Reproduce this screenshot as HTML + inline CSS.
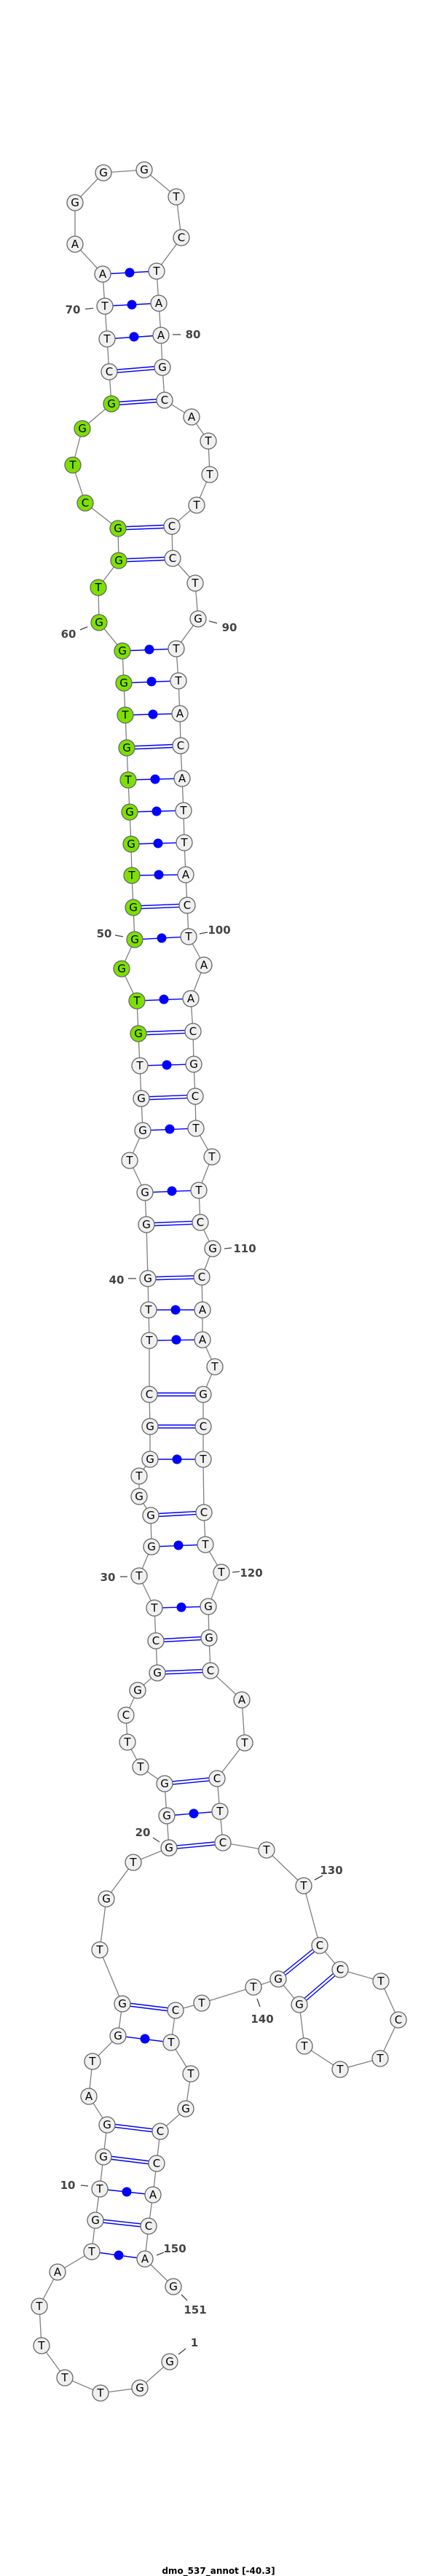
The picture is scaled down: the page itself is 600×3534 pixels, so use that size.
<!DOCTYPE html>
<html><head><meta charset="utf-8"><style>
html,body{margin:0;padding:0;background:#fff;}
svg{display:block;}
.n circle{fill:#f0f0f0;stroke:#666;stroke-width:1.3;}
.n circle.g{fill:#7de000;}
.n text{font-family:"DejaVu Sans","Liberation Sans",sans-serif;font-size:15px;text-anchor:middle;fill:#000;}
.lb{font-family:"DejaVu Sans","Liberation Sans",sans-serif;font-size:15px;font-weight:bold;fill:#444;text-anchor:middle;}
</style></head><body>
<svg width="600" height="3534" viewBox="0 0 600 3534" xmlns="http://www.w3.org/2000/svg">
<polyline fill="none" stroke="#808080" stroke-width="1.3" points="233,3240 192,3276 138,3283 89,3262 57,3218 54,3164 79,3117 126,3089 131,3046 137,3003 142,2959 147,2915 122,2876 127,2828 162,2793 168,2749 137,2675 146,2605 183,2555 232,2535 229,2491 226,2447 193,2424 175,2390 173,2353 189,2319 216,2295 214,2251 212,2206 191,2162 208,2122 207,2079 191,2053 191,2025 206,2002 206,1957 205,1913 205,1839 204,1797 203,1754 201,1680 199,1636 178,1592 196,1551 194,1507 192,1462 190,1418 188,1373 167,1329 185,1289 183,1245 181,1201 180,1158 178,1114 176,1070 174,1026 172,981 170,937 168,893 136,854 135,806 163,769 162,725 117,690 100,638 113,588 153,554 150,510 147,465 144,420 141,376 103,335 103,278 142,237 198,233 242,270 249,326 215,372 218,416 221,460 223,504 226,549 263,572 286,605 288,651 270,693 236,722 237,766 268,800 272,849 242,890 245,934 247,979 248,1023 250,1068 252,1112 253,1156 255,1200 257,1242 259,1285 280,1324 262,1370 265,1415 266,1460 268,1504 269,1548 291,1587 273,1633 275,1677 292,1713 277,1752 278,1797 278,1838 295,1875 279,1913 279,1957 279,2002 280,2075 282,2119 304,2157 286,2204 287,2247 289,2292 332,2332 336,2391 298,2440 302,2485 306,2528 366,2538 417,2587 439,2669 467,2702 523,2718 547,2771 522,2824 467,2839 418,2807 411,2750 382,2715 348,2726 277,2748 241,2758 235,2802 262,2845 255,2893 220,2924 215,2968 210,3011 204,3054 199,3099 238,3137"/>
<!-- double bonds (GC) -->
<path fill="none" stroke="#0000ff" stroke-width="1.4" d="
M131,3044 L204,3052 M131,3048 L204,3056
M142,2957 L215,2966 M142,2961 L215,2970
M147,2913 L220,2922 M147,2917 L220,2926
M168,2747 L241,2756 M168,2751 L241,2760
M232,2533 L306,2526 M232,2537 L306,2530
M226,2445 L298,2438 M226,2449 L298,2442
M216,2293 L289,2290 M216,2297 L289,2294
M214,2249 L287,2245 M214,2253 L287,2249
M207,2077 L280,2073 M207,2081 L280,2077
M206,1955 L279,1955 M206,1959 L279,1959
M205,1911 L279,1911 M205,1915 L279,1915
M203,1752 L277,1750 M203,1756 L277,1754
M201,1678 L275,1675 M201,1682 L275,1679
M194,1505 L268,1502 M194,1509 L268,1506
M190,1416 L265,1413 M190,1420 L265,1417
M183,1243 L257,1240 M183,1247 L257,1244
M174,1024 L248,1021 M174,1028 L248,1025
M163,767 L237,764 M163,771 L237,768
M162,723 L236,720 M162,727 L236,724
M153,552 L226,547 M153,556 L226,551
M150,508 L223,502 M150,512 L223,506
M412.3,2751.5 L468.3,2703.5 M409.7,2748.5 L465.7,2700.5
M383.3,2716.5 L440.3,2670.5 M380.7,2713.5 L437.7,2667.5
"/>
<!-- single bonds with dots -->
<path fill="none" stroke="#0000ff" stroke-width="1.4" d="
M126,3089 L199,3099 M137,3003 L210,3011 M162,2793 L235,2802 M229,2491 L302,2485
M212,2206 L286,2204 M208,2122 L282,2119 M206,2002 L279,2002 M205,1839 L278,1838
M204,1797 L278,1797 M199,1636 L273,1633 M196,1551 L269,1548 M192,1462 L266,1460
M188,1373 L262,1370 M185,1289 L259,1285 M181,1201 L255,1200 M180,1158 L253,1156
M178,1114 L252,1112 M176,1070 L250,1068 M172,981 L247,979 M170,937 L245,934
M168,893 L242,890 M147,465 L221,460 M144,420 L218,416 M141,376 L215,372"/>
<g fill="#0000ff">
<circle cx="163" cy="3094" r="6.5"/><circle cx="174" cy="3007" r="6.5"/><circle cx="199" cy="2797" r="6.5"/><circle cx="266" cy="2488" r="6.5"/>
<circle cx="249" cy="2205" r="6.5"/><circle cx="245" cy="2120" r="6.5"/><circle cx="243" cy="2002" r="6.5"/><circle cx="242" cy="1838" r="6.5"/>
<circle cx="241" cy="1797" r="6.5"/><circle cx="236" cy="1634" r="6.5"/><circle cx="233" cy="1549" r="6.5"/><circle cx="229" cy="1461" r="6.5"/>
<circle cx="225" cy="1371" r="6.5"/><circle cx="222" cy="1287" r="6.5"/><circle cx="218" cy="1200" r="6.5"/><circle cx="217" cy="1157" r="6.5"/>
<circle cx="215" cy="1113" r="6.5"/><circle cx="213" cy="1069" r="6.5"/><circle cx="210" cy="980" r="6.5"/><circle cx="208" cy="935" r="6.5"/>
<circle cx="205" cy="891" r="6.5"/><circle cx="184" cy="462" r="6.5"/><circle cx="181" cy="418" r="6.5"/><circle cx="178" cy="374" r="6.5"/>
</g>
<!-- ticks -->
<path fill="none" stroke="#444" stroke-width="1.3" d="
M117,424 L128,423 M237,459 L248,459 M110,864 L120,860 M287,852 L298,855
M158,1283 L169,1285 M274,1281 L285,1279 M308,1713 L318,1712 M176,1754 L187,1754
M165,2163 L175,2163 M319,2157 L329,2156 M210,2521 L219,2527 M432,2579 L443,2573
M353,2742 L357,2753 M111,2998 L121,2999 M215,3094 L225,3090 M249,3148 L257,3156
M245,3230 L255,3222"/>
<g class="lb">
<text x="100" y="430">70</text>
<text x="265" y="464">80</text>
<text x="94" y="875">60</text>
<text x="315" y="866">90</text>
<text x="143" y="1286">50</text>
<text x="301" y="1281">100</text>
<text x="336" y="1718">110</text>
<text x="160" y="1761">40</text>
<text x="148" y="2169">30</text>
<text x="345" y="2163">120</text>
<text x="196" y="2519">20</text>
<text x="455" y="2571">130</text>
<text x="360" y="2775">140</text>
<text x="93" y="3003">10</text>
<text x="240" y="3090">150</text>
<text x="268" y="3174">151</text>
<text x="267" y="3219">1</text>
</g>
<g class="n">
<circle cx="233" cy="3240" r="11"/><text x="233" y="3245">G</text>
<circle cx="192" cy="3276" r="11"/><text x="192" y="3281">G</text>
<circle cx="138" cy="3283" r="11"/><text x="138" y="3288">T</text>
<circle cx="89" cy="3262" r="11"/><text x="89" y="3267">T</text>
<circle cx="57" cy="3218" r="11"/><text x="57" y="3223">T</text>
<circle cx="54" cy="3164" r="11"/><text x="54" y="3169">T</text>
<circle cx="79" cy="3117" r="11"/><text x="79" y="3122">A</text>
<circle cx="126" cy="3089" r="11"/><text x="126" y="3094">T</text>
<circle cx="131" cy="3046" r="11"/><text x="131" y="3051">G</text>
<circle cx="137" cy="3003" r="11"/><text x="137" y="3008">T</text>
<circle cx="142" cy="2959" r="11"/><text x="142" y="2964">G</text>
<circle cx="147" cy="2915" r="11"/><text x="147" y="2920">G</text>
<circle cx="122" cy="2876" r="11"/><text x="122" y="2881">A</text>
<circle cx="127" cy="2828" r="11"/><text x="127" y="2833">T</text>
<circle cx="162" cy="2793" r="11"/><text x="162" y="2798">G</text>
<circle cx="168" cy="2749" r="11"/><text x="168" y="2754">G</text>
<circle cx="137" cy="2675" r="11"/><text x="137" y="2680">T</text>
<circle cx="146" cy="2605" r="11"/><text x="146" y="2610">G</text>
<circle cx="183" cy="2555" r="11"/><text x="183" y="2560">T</text>
<circle cx="232" cy="2535" r="11"/><text x="232" y="2540">G</text>
<circle cx="229" cy="2491" r="11"/><text x="229" y="2496">G</text>
<circle cx="226" cy="2447" r="11"/><text x="226" y="2452">G</text>
<circle cx="193" cy="2424" r="11"/><text x="193" y="2429">T</text>
<circle cx="175" cy="2390" r="11"/><text x="175" y="2395">T</text>
<circle cx="173" cy="2353" r="11"/><text x="173" y="2358">C</text>
<circle cx="189" cy="2319" r="11"/><text x="189" y="2324">G</text>
<circle cx="216" cy="2295" r="11"/><text x="216" y="2300">G</text>
<circle cx="214" cy="2251" r="11"/><text x="214" y="2256">C</text>
<circle cx="212" cy="2206" r="11"/><text x="212" y="2211">T</text>
<circle cx="191" cy="2162" r="11"/><text x="191" y="2167">T</text>
<circle cx="208" cy="2122" r="11"/><text x="208" y="2127">G</text>
<circle cx="207" cy="2079" r="11"/><text x="207" y="2084">G</text>
<circle cx="191" cy="2053" r="11"/><text x="191" y="2058">G</text>
<circle cx="191" cy="2025" r="11"/><text x="191" y="2030">T</text>
<circle cx="206" cy="2002" r="11"/><text x="206" y="2007">G</text>
<circle cx="206" cy="1957" r="11"/><text x="206" y="1962">G</text>
<circle cx="205" cy="1913" r="11"/><text x="205" y="1918">C</text>
<circle cx="205" cy="1839" r="11"/><text x="205" y="1844">T</text>
<circle cx="204" cy="1797" r="11"/><text x="204" y="1802">T</text>
<circle cx="203" cy="1754" r="11"/><text x="203" y="1759">G</text>
<circle cx="201" cy="1680" r="11"/><text x="201" y="1685">G</text>
<circle cx="199" cy="1636" r="11"/><text x="199" y="1641">G</text>
<circle cx="178" cy="1592" r="11"/><text x="178" y="1597">T</text>
<circle cx="196" cy="1551" r="11"/><text x="196" y="1556">G</text>
<circle cx="194" cy="1507" r="11"/><text x="194" y="1512">G</text>
<circle cx="192" cy="1462" r="11"/><text x="192" y="1467">T</text>
<circle class="g" cx="190" cy="1418" r="11"/><text x="190" y="1423">G</text>
<circle class="g" cx="188" cy="1373" r="11"/><text x="188" y="1378">T</text>
<circle class="g" cx="167" cy="1329" r="11"/><text x="167" y="1334">G</text>
<circle class="g" cx="185" cy="1289" r="11"/><text x="185" y="1294">G</text>
<circle class="g" cx="183" cy="1245" r="11"/><text x="183" y="1250">G</text>
<circle class="g" cx="181" cy="1201" r="11"/><text x="181" y="1206">T</text>
<circle class="g" cx="180" cy="1158" r="11"/><text x="180" y="1163">G</text>
<circle class="g" cx="178" cy="1114" r="11"/><text x="178" y="1119">G</text>
<circle class="g" cx="176" cy="1070" r="11"/><text x="176" y="1075">T</text>
<circle class="g" cx="174" cy="1026" r="11"/><text x="174" y="1031">G</text>
<circle class="g" cx="172" cy="981" r="11"/><text x="172" y="986">T</text>
<circle class="g" cx="170" cy="937" r="11"/><text x="170" y="942">G</text>
<circle class="g" cx="168" cy="893" r="11"/><text x="168" y="898">G</text>
<circle class="g" cx="136" cy="854" r="11"/><text x="136" y="859">G</text>
<circle class="g" cx="135" cy="806" r="11"/><text x="135" y="811">T</text>
<circle class="g" cx="163" cy="769" r="11"/><text x="163" y="774">G</text>
<circle class="g" cx="162" cy="725" r="11"/><text x="162" y="730">G</text>
<circle class="g" cx="117" cy="690" r="11"/><text x="117" y="695">C</text>
<circle class="g" cx="100" cy="638" r="11"/><text x="100" y="643">T</text>
<circle class="g" cx="113" cy="588" r="11"/><text x="113" y="593">G</text>
<circle class="g" cx="153" cy="554" r="11"/><text x="153" y="559">G</text>
<circle cx="150" cy="510" r="11"/><text x="150" y="515">C</text>
<circle cx="147" cy="465" r="11"/><text x="147" y="470">T</text>
<circle cx="144" cy="420" r="11"/><text x="144" y="425">T</text>
<circle cx="141" cy="376" r="11"/><text x="141" y="381">A</text>
<circle cx="103" cy="335" r="11"/><text x="103" y="340">A</text>
<circle cx="103" cy="278" r="11"/><text x="103" y="283">G</text>
<circle cx="142" cy="237" r="11"/><text x="142" y="242">G</text>
<circle cx="198" cy="233" r="11"/><text x="198" y="238">G</text>
<circle cx="242" cy="270" r="11"/><text x="242" y="275">T</text>
<circle cx="249" cy="326" r="11"/><text x="249" y="331">C</text>
<circle cx="215" cy="372" r="11"/><text x="215" y="377">T</text>
<circle cx="218" cy="416" r="11"/><text x="218" y="421">A</text>
<circle cx="221" cy="460" r="11"/><text x="221" y="465">A</text>
<circle cx="223" cy="504" r="11"/><text x="223" y="509">G</text>
<circle cx="226" cy="549" r="11"/><text x="226" y="554">C</text>
<circle cx="263" cy="572" r="11"/><text x="263" y="577">A</text>
<circle cx="286" cy="605" r="11"/><text x="286" y="610">T</text>
<circle cx="288" cy="651" r="11"/><text x="288" y="656">T</text>
<circle cx="270" cy="693" r="11"/><text x="270" y="698">T</text>
<circle cx="236" cy="722" r="11"/><text x="236" y="727">C</text>
<circle cx="237" cy="766" r="11"/><text x="237" y="771">C</text>
<circle cx="268" cy="800" r="11"/><text x="268" y="805">T</text>
<circle cx="272" cy="849" r="11"/><text x="272" y="854">G</text>
<circle cx="242" cy="890" r="11"/><text x="242" y="895">T</text>
<circle cx="245" cy="934" r="11"/><text x="245" y="939">T</text>
<circle cx="247" cy="979" r="11"/><text x="247" y="984">A</text>
<circle cx="248" cy="1023" r="11"/><text x="248" y="1028">C</text>
<circle cx="250" cy="1068" r="11"/><text x="250" y="1073">A</text>
<circle cx="252" cy="1112" r="11"/><text x="252" y="1117">T</text>
<circle cx="253" cy="1156" r="11"/><text x="253" y="1161">T</text>
<circle cx="255" cy="1200" r="11"/><text x="255" y="1205">A</text>
<circle cx="257" cy="1242" r="11"/><text x="257" y="1247">C</text>
<circle cx="259" cy="1285" r="11"/><text x="259" y="1290">T</text>
<circle cx="280" cy="1324" r="11"/><text x="280" y="1329">A</text>
<circle cx="262" cy="1370" r="11"/><text x="262" y="1375">A</text>
<circle cx="265" cy="1415" r="11"/><text x="265" y="1420">C</text>
<circle cx="266" cy="1460" r="11"/><text x="266" y="1465">G</text>
<circle cx="268" cy="1504" r="11"/><text x="268" y="1509">C</text>
<circle cx="269" cy="1548" r="11"/><text x="269" y="1553">T</text>
<circle cx="291" cy="1587" r="11"/><text x="291" y="1592">T</text>
<circle cx="273" cy="1633" r="11"/><text x="273" y="1638">T</text>
<circle cx="275" cy="1677" r="11"/><text x="275" y="1682">C</text>
<circle cx="292" cy="1713" r="11"/><text x="292" y="1718">G</text>
<circle cx="277" cy="1752" r="11"/><text x="277" y="1757">C</text>
<circle cx="278" cy="1797" r="11"/><text x="278" y="1802">A</text>
<circle cx="278" cy="1838" r="11"/><text x="278" y="1843">A</text>
<circle cx="295" cy="1875" r="11"/><text x="295" y="1880">T</text>
<circle cx="279" cy="1913" r="11"/><text x="279" y="1918">G</text>
<circle cx="279" cy="1957" r="11"/><text x="279" y="1962">C</text>
<circle cx="279" cy="2002" r="11"/><text x="279" y="2007">T</text>
<circle cx="280" cy="2075" r="11"/><text x="280" y="2080">C</text>
<circle cx="282" cy="2119" r="11"/><text x="282" y="2124">T</text>
<circle cx="304" cy="2157" r="11"/><text x="304" y="2162">T</text>
<circle cx="286" cy="2204" r="11"/><text x="286" y="2209">G</text>
<circle cx="287" cy="2247" r="11"/><text x="287" y="2252">G</text>
<circle cx="289" cy="2292" r="11"/><text x="289" y="2297">C</text>
<circle cx="332" cy="2332" r="11"/><text x="332" y="2337">A</text>
<circle cx="336" cy="2391" r="11"/><text x="336" y="2396">T</text>
<circle cx="298" cy="2440" r="11"/><text x="298" y="2445">C</text>
<circle cx="302" cy="2485" r="11"/><text x="302" y="2490">T</text>
<circle cx="306" cy="2528" r="11"/><text x="306" y="2533">C</text>
<circle cx="366" cy="2538" r="11"/><text x="366" y="2543">T</text>
<circle cx="417" cy="2587" r="11"/><text x="417" y="2592">T</text>
<circle cx="439" cy="2669" r="11"/><text x="439" y="2674">C</text>
<circle cx="467" cy="2702" r="11"/><text x="467" y="2707">C</text>
<circle cx="523" cy="2718" r="11"/><text x="523" y="2723">T</text>
<circle cx="547" cy="2771" r="11"/><text x="547" y="2776">C</text>
<circle cx="522" cy="2824" r="11"/><text x="522" y="2829">T</text>
<circle cx="467" cy="2839" r="11"/><text x="467" y="2844">T</text>
<circle cx="418" cy="2807" r="11"/><text x="418" y="2812">T</text>
<circle cx="411" cy="2750" r="11"/><text x="411" y="2755">G</text>
<circle cx="382" cy="2715" r="11"/><text x="382" y="2720">G</text>
<circle cx="348" cy="2726" r="11"/><text x="348" y="2731">T</text>
<circle cx="277" cy="2748" r="11"/><text x="277" y="2753">T</text>
<circle cx="241" cy="2758" r="11"/><text x="241" y="2763">C</text>
<circle cx="235" cy="2802" r="11"/><text x="235" y="2807">T</text>
<circle cx="262" cy="2845" r="11"/><text x="262" y="2850">T</text>
<circle cx="255" cy="2893" r="11"/><text x="255" y="2898">G</text>
<circle cx="220" cy="2924" r="11"/><text x="220" y="2929">C</text>
<circle cx="215" cy="2968" r="11"/><text x="215" y="2973">C</text>
<circle cx="210" cy="3011" r="11"/><text x="210" y="3016">A</text>
<circle cx="204" cy="3054" r="11"/><text x="204" y="3059">C</text>
<circle cx="199" cy="3099" r="11"/><text x="199" y="3104">A</text>
<circle cx="238" cy="3137" r="11"/><text x="238" y="3142">G</text>
</g>
<text x="300" y="3531" style="font-family:'DejaVu Sans','Liberation Sans',sans-serif;font-size:12px;font-weight:bold;fill:#000;text-anchor:middle;">dmo_537_annot [-40.3]</text>
</svg>
</body></html>
